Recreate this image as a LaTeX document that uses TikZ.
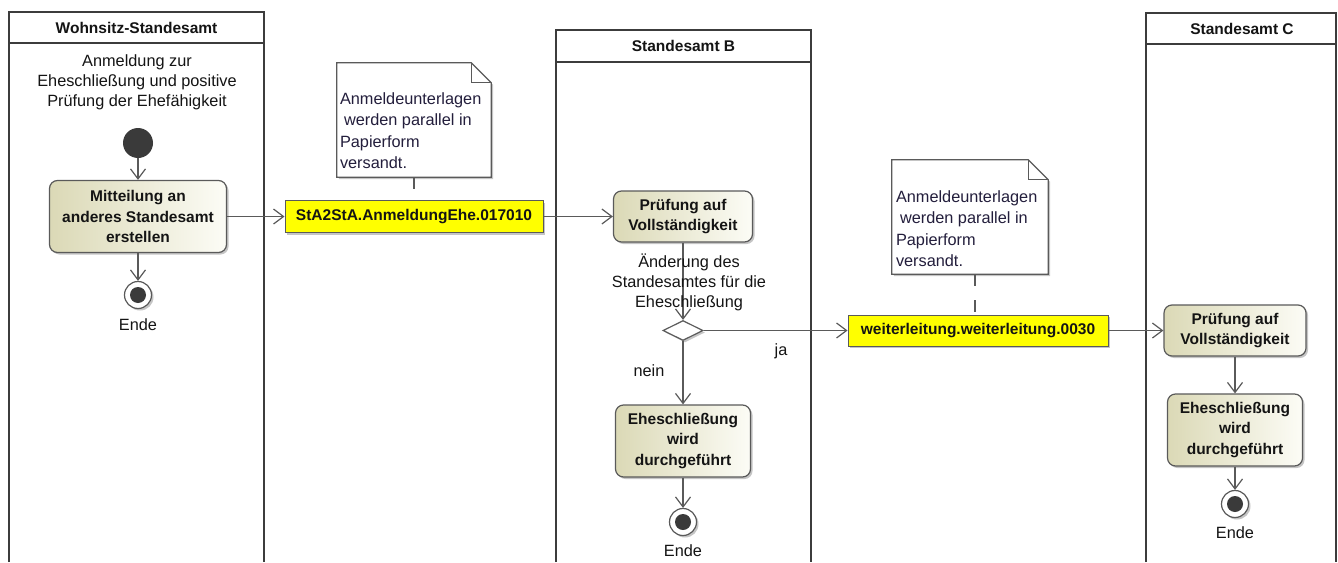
\documentclass[tikz,border=0pt]{standalone}
\usepackage{fontspec}
\setmainfont{Liberation Sans}
\usetikzlibrary{arrows.meta,shapes.geometric,shadows}
\definecolor{lanec}{RGB}{60,60,60}
\definecolor{linec}{RGB}{90,90,90}
\definecolor{actl}{RGB}{219,217,182}
\definecolor{actr}{RGB}{252,252,246}
\definecolor{txt}{RGB}{20,20,20}
\definecolor{notetxt}{RGB}{35,30,60}
\definecolor{startc}{RGB}{58,58,58}
\definecolor{msgc}{RGB}{255,255,0}
\begin{document}
\begin{tikzpicture}[x=1pt,y=-1pt,
  lane/.style={draw=lanec, line width=1.8pt},
  lanetitle/.style={font=\bfseries\fontsize{15.5}{19}\selectfont, text=txt, inner sep=0pt},
  shad/.style={drop shadow={shadow xshift=2pt,shadow yshift=-2pt,fill=black!50,opacity=0.45}},
  action/.style={rectangle, rounded corners=8pt, draw=linec, line width=1.2pt,
    left color=actl, right color=actr, shad, align=center,
    font=\bfseries\fontsize{15.5}{20.5}\selectfont, text=txt, inner sep=2pt},
  msg/.style={rectangle, fill=msgc, draw=linec, line width=1pt, shad,
    font=\bfseries\fontsize{15.5}{19}\selectfont, text=txt, inner sep=0pt},
  plain/.style={font=\fontsize{16.3}{20}\selectfont, text=txt, inner sep=0pt, align=center},
  notebox/.style={rectangle, draw=none, inner sep=0pt},
  noteline/.style={draw=linec, line width=1.2pt},
  notetext/.style={font=\fontsize{16.3}{21.5}\selectfont, text=notetxt, inner sep=0pt, align=left},
  startnode/.style={circle, fill=startc, minimum size=30pt, inner sep=0pt},
  endnode/.style={circle, draw=linec, line width=1.2pt, fill=white, minimum size=27pt, inner sep=0pt, shad,
    path picture={\fill[startc] (path picture bounding box.center) circle (8pt);}},
  decision/.style={diamond, draw=linec, line width=1.2pt, fill=white, minimum width=40pt, minimum height=20pt, inner sep=0pt, shad},
  flow/.style={draw=linec, line width=1.2pt, -{Straight Barb[length=10pt,width=15pt]}},
  notelink/.style={draw=linec, line width=1.2pt, dash pattern=on 12pt off 14pt}
]
\fill[white] (0,0) rectangle (1338,562);
\useasboundingbox (0,0) rectangle (1338,562);

% lanes
\draw[lane] (9,562) -- (9,12) -- (264,12) -- (264,562);
\draw[lane] (9,43) -- (264,43);
\node[lanetitle] (l1) at (136.5,27.5) {Wohnsitz-Standesamt};
\draw[lane] (556,562) -- (556,30) -- (811,30) -- (811,562);
\draw[lane] (556,62) -- (811,62);
\node[lanetitle] (l2) at (683.5,46) {Standesamt B};
\draw[lane] (1146,562) -- (1146,13) -- (1336,13) -- (1336,562);
\draw[lane] (1146,44) -- (1336,44);
\node[lanetitle] (l3) at (1242,28.5) {Standesamt C};

% lane 1
\node[plain] (t1) at (137,82) {Anmeldung zur\\Eheschließung und positive\\Prüfung der Ehefähigkeit};
\node[startnode] (s) at (138,143) {};
\node[action, minimum width=177pt, minimum height=72pt] (a1) at (138,216.5) {Mitteilung an\\anderes Standesamt\\erstellen};
\node[endnode] (e1) at (138,295) {};
\node[plain] (e1l) at (138,325) {Ende};

% message 1 + note
\node[msg, minimum width=258pt, minimum height=32pt] (m1) at (414,216.5) {StA2StA.AnmeldungEhe.017010};
\node[notebox, minimum width=154pt, minimum height=114pt] (n1) at (414,120) {};
\draw[noteline, fill=white, shad] (n1.north west) -- ([xshift=-20pt]n1.north east) -- ([yshift=-20pt]n1.north east) -- (n1.south east) -- (n1.south west) -- cycle;
\draw[noteline] ([xshift=-20pt]n1.north east) -- ([xshift=-20pt,yshift=-20pt]n1.north east) -- ([yshift=-20pt]n1.north east);
\node[notetext, anchor=west] (n1t) at ([xshift=3pt,yshift=-10.5pt]n1.west) {Anmeldeunterlagen\\\hspace*{4pt}werden parallel in\\Papierform\\versandt.};
\draw[notelink] (n1.south) -- (m1.north);

% lane B
\node[action, minimum width=139pt, minimum height=51pt] (p1) at (683,216.5) {Prüfung auf\\Vollständigkeit};
\node[decision] (d) at (683,330.5) {};
\node[action, minimum width=135pt, minimum height=72pt] (x1) at (683,441) {Eheschließung\\wird\\durchgeführt};
\node[endnode] (e2) at (683,522) {};
\node[plain] (e2l) at (683,551) {Ende};

% message 2 + note
\node[msg, minimum width=260pt, minimum height=31pt] (m2) at (978,330.5) {weiterleitung.weiterleitung.0030};
\node[notebox, minimum width=156pt, minimum height=114pt] (n2) at (970,217) {};
\draw[noteline, fill=white, shad] (n2.north west) -- ([xshift=-20pt]n2.north east) -- ([yshift=-20pt]n2.north east) -- (n2.south east) -- (n2.south west) -- cycle;
\draw[noteline] ([xshift=-20pt]n2.north east) -- ([xshift=-20pt,yshift=-20pt]n2.north east) -- ([yshift=-20pt]n2.north east);
\node[notetext, anchor=west] (n2t) at ([xshift=4pt,yshift=-11.5pt]n2.west) {Anmeldeunterlagen\\\hspace*{4pt}werden parallel in\\Papierform\\versandt.};
\draw[notelink] ([xshift=5pt]n2.south) -- ([xshift=-3pt]m2.north);

% lane C
\node[action, minimum width=142pt, minimum height=51pt] (p2) at (1235,330.5) {Prüfung auf\\Vollständigkeit};
\node[action, minimum width=135pt, minimum height=72pt] (x2) at (1235,430) {Eheschließung\\wird\\durchgeführt};
\node[endnode] (e3) at (1235,504) {};
\node[plain] (e3l) at (1235,533) {Ende};

% connectors
\draw[flow] (s) -- (a1);
\draw[flow] (a1) -- (e1);
\draw[flow] (a1.east) -- (m1.west);
\draw[flow] (m1.east) -- (p1.west);
\draw[flow] (p1) -- (d);
\node[plain] (lg) at (689,282) {Änderung des\\Standesamtes für die\\Eheschließung};
\draw[flow] (d) -- (x1);
\node[plain] (lnein) at (649,371) {nein};
\draw[flow] (d.east) -- (m2.west);
\node[plain] (lja) at (781,351) {ja};
\draw[flow] (x1) -- (e2);
\draw[flow] (m2.east) -- (p2.west);
\draw[flow] (p2) -- (x2);
\draw[flow] (x2) -- (e3);
\end{tikzpicture}
\end{document}
